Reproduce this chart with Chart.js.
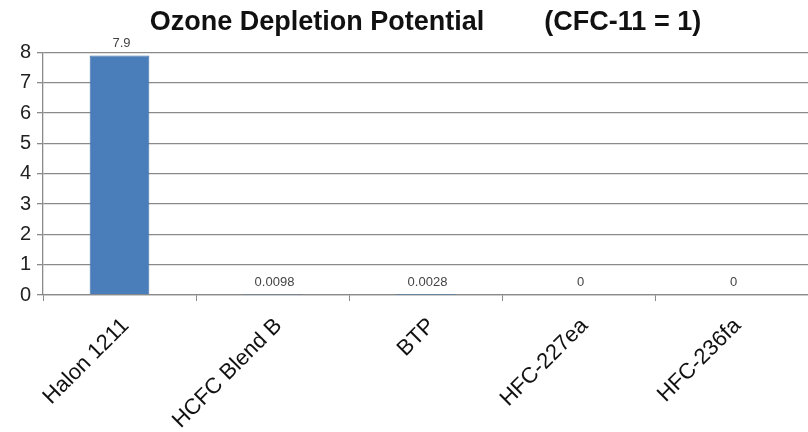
<!DOCTYPE html>
<html>
<head>
<meta charset="utf-8">
<script src="https://cdn.jsdelivr.net/npm/chart.js@4.4.1/dist/chart.umd.min.js"></script>
<style>
  html, body { margin: 0; padding: 0; background: #fff; }
  #wrap { width: 808px; height: 432px; }
</style>
</head>
<body>
<div id="wrap"><canvas id="chart" width="808" height="432"></canvas></div>
<script>
// chart data
const categories = ['Halon 1211', 'HCFC Blend B', 'BTP', 'HFC-227ea', 'HFC-236fa'];
const odpValues = [7.9, 0.0098, 0.0028, 0, 0];
const yTicks = [0, 1, 2, 3, 4, 5, 6, 7, 8];

// draws the value over each bar
const valueLabels = {
  id: 'valueLabels',
  afterDatasetsDraw(chart) {
    const ctx = chart.ctx;
    const meta = chart.getDatasetMeta(0);
    ctx.save();
    ctx.font = '13px "Liberation Sans", Arial, sans-serif';
    ctx.fillStyle = '#444';
    ctx.textAlign = 'center';
    ctx.textBaseline = 'bottom';
    meta.data.forEach((bar, i) => {
      ctx.fillText(String(odpValues[i]), bar.x + 2, bar.y - 6);
    });
    ctx.restore();
  }
};

const ctx = document.getElementById('chart').getContext('2d');
new Chart(ctx, {
  type: 'bar',
  data: {
    labels: categories,
    datasets: [{
      data: odpValues,
      backgroundColor: '#4a7ebb',
      borderColor: '#3f6fa8',
      borderWidth: 1,
      categoryPercentage: 1,
      barPercentage: 0.39
    }]
  },
  options: {
    responsive: false,
    animation: false,
    layout: { padding: { top: 2, right: 0, left: 0, bottom: 0 } },
    plugins: {
      legend: { display: false },
      tooltip: { enabled: false },
      title: {
        display: true,
        fullSize: false,
        text: 'Ozone Depletion Potential        (CFC-11 = 1)',
        color: '#111',
        font: { family: '"Liberation Sans", Arial, sans-serif', size: 27, weight: 'bold' },
        padding: { top: 4, bottom: 14 }
      }
    },
    scales: {
      y: {
        min: 0,
        max: 8,
        afterBuildTicks: axis => { axis.ticks = yTicks.map(v => ({ value: v })); },
        afterFit: axis => { axis.width = 43; },
        ticks: {
          color: '#222',
          padding: 6,
          font: { family: '"Liberation Sans", Arial, sans-serif', size: 20 }
        },
        grid: { color: '#8a8a8a', lineWidth: 1.3, tickLength: 6 },
        border: { color: '#8a8a8a', width: 1.3 }
      },
      x: {
        afterFit: axis => { axis.height = 137; },
        ticks: {
          color: '#111',
          minRotation: 45,
          maxRotation: 45,
          padding: 12,
          labelOffset: 6,
          font: { family: '"Liberation Sans", Arial, sans-serif', size: 22 }
        },
        grid: { drawOnChartArea: false, offset: true, color: '#8a8a8a', tickLength: 6 },
        border: { color: '#8a8a8a', width: 1.3 }
      }
    }
  },
  plugins: [valueLabels]
});
</script>
</body>
</html>
